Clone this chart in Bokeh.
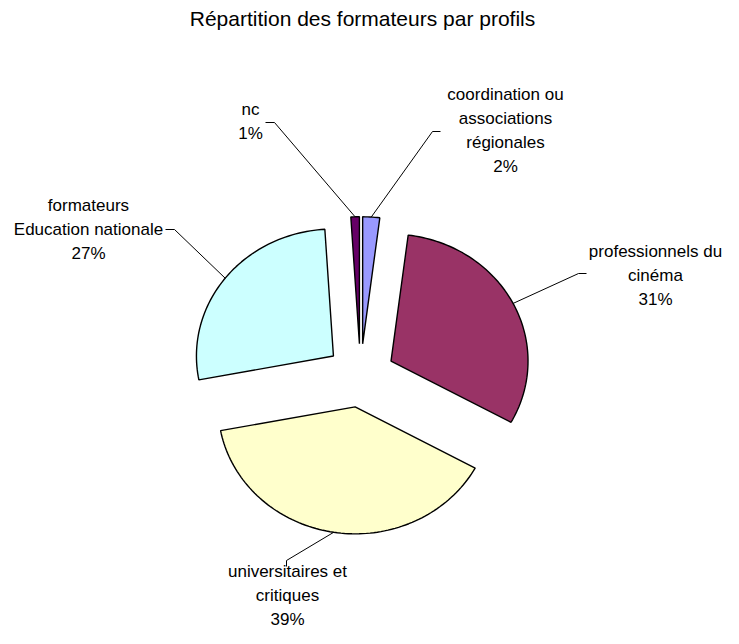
import numpy as np
from bokeh.plotting import figure
from bokeh.models import Range1d, ColumnDataSource
from bokeh.core.properties import value
from bokeh.embed import file_html
from bokeh.resources import INLINE

# ---- data ----
title = "Répartition des formateurs par profils"
categories = ["coordination ou\nassociations\nrégionales",
              "professionnels du\ncinéma",
              "universitaires et\ncritiques",
              "formateurs\nEducation nationale",
              "nc"]
values = [2, 31, 39, 27, 1]
colors = ["#9999FF", "#993366", "#FFFFCC", "#CCFFFF", "#660066"]

# ---- layout (picture pixel coordinates) ----
W, H = 723, 628
CX, CY = 360, 375
RX, RY = 137, 127
EXPLODE = 0.25
label_pos = [(505, 130), (655, 275), (287, 595), (88, 229), (250, 121)]
leader_start = [(440, 131), (586, 273), (286, 566), (165, 229), (265, 122)]
leader_elbow = [(432, 131), (578, 273), (286, 560), (174, 229), (274, 122)]

FONT = value("Liberation Sans")

vals = np.array(values, dtype=float)
total = vals.sum()
ends = np.cumsum(vals) / total * 2 * np.pi
starts = ends - vals / total * 2 * np.pi
mids = (starts + ends) / 2


def pt(theta, ox, oy, scale=1.0):
    # angle measured clockwise from 12 o'clock, y axis pointing down
    return ox + RX * scale * np.sin(theta), oy - RY * scale * np.cos(theta)


xs, ys, ax_, ay_ = [], [], [], []
for s, e, m in zip(starts, ends, mids):
    ox, oy = pt(m, CX, CY, EXPLODE)
    th = np.linspace(s, e, max(8, int((e - s) / (2 * np.pi) * 240)))
    px, py = pt(th, ox, oy)
    xs.append([ox] + list(px))
    ys.append([oy] + list(py))
    a = pt(m, ox, oy)
    ax_.append(a[0])
    ay_.append(a[1])

p = figure(width=W, height=H, x_range=Range1d(0, W), y_range=Range1d(H, 0),
           output_backend="svg", toolbar_location=None, min_border=0)
p.axis.visible = False
p.grid.visible = False
p.outline_line_color = None
p.background_fill_color = "white"

p.patches(xs, ys, fill_color=colors, line_color="black", line_width=1.4)

# leader lines
lx = [[s[0], el[0], a] for s, el, a in zip(leader_start, leader_elbow, ax_)]
ly = [[s[1], el[1], a] for s, el, a in zip(leader_start, leader_elbow, ay_)]
p.multi_line(lx, ly, line_color="black", line_width=1)

labels = [f"{c}\n{round(v / total * 100):.0f}%" for c, v in zip(categories, values)]
src = ColumnDataSource(dict(x=[q[0] for q in label_pos], y=[q[1] for q in label_pos], t=labels))
p.text("x", "y", "t", source=src, text_align="center", text_baseline="middle",
       text_font=FONT, text_font_size="17px", text_line_height=1.27, text_color="black")

p.text([362], [18], [title], text_align="center", text_baseline="middle",
       text_font=FONT, text_font_size="21px", text_color="black")

open("out.html", "w").write(file_html(p, INLINE))
